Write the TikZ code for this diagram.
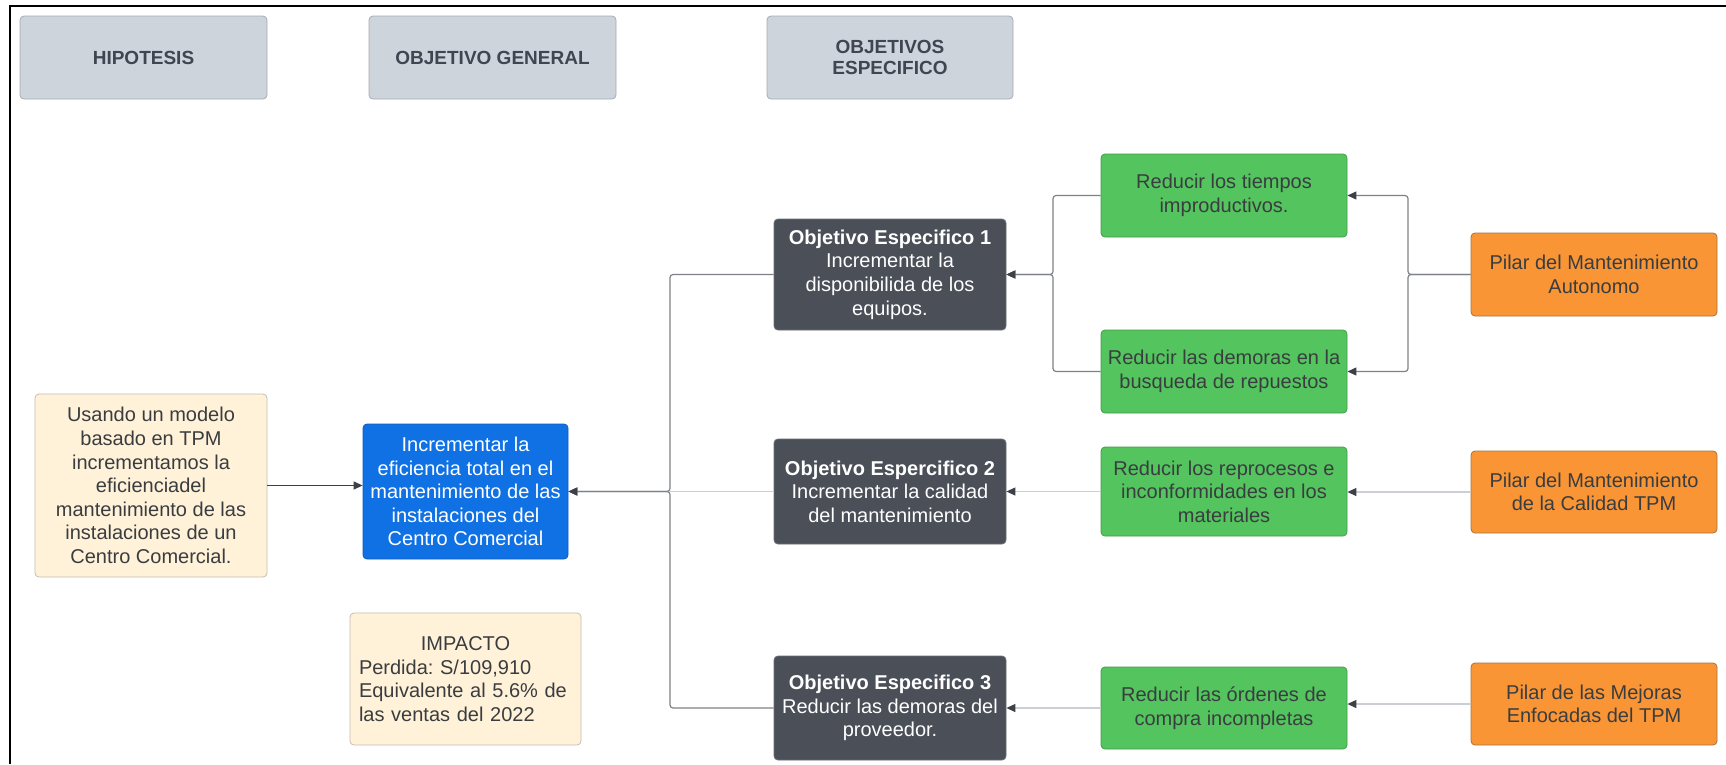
\documentclass[tikz,border=0pt]{standalone}
\usepackage{fontspec}
\setmainfont{Liberation Sans}
\usetikzlibrary{arrows.meta}
\frenchspacing
\definecolor{hdrfill}{HTML}{CED4DB}
\definecolor{hdrline}{HTML}{A6ACB3}
\definecolor{hdrtext}{HTML}{3F4652}
\definecolor{creamfill}{HTML}{FFF2D9}
\definecolor{creamline}{HTML}{C4BDB0}
\definecolor{bluefill}{HTML}{1071E5}
\definecolor{blueline}{HTML}{0D5CBF}
\definecolor{darkfill}{HTML}{4A4F58}
\definecolor{darkline}{HTML}{6A6F77}
\definecolor{greenfill}{HTML}{54C45E}
\definecolor{greenline}{HTML}{3F9F48}
\definecolor{orangefill}{HTML}{F99535}
\definecolor{orangeline}{HTML}{A9733E}
\definecolor{bodytext}{HTML}{3A3D40}
\definecolor{treeline}{HTML}{7E8288}
\definecolor{lightline}{HTML}{CBCED2}
\definecolor{tipcol}{HTML}{3C4047}
\tikzset{
  box/.style={rectangle, rounded corners=4pt, inner sep=0pt, line width=0.8pt,
    align=center, font=\fontsize{20}{23.6}\selectfont},
  hdrbox/.style={box, fill=hdrfill, draw=hdrline, text=hdrtext,
    minimum width=247pt, minimum height=83pt,
    font=\fontsize{19}{21}\selectfont\bfseries},
  creambox/.style={box, fill=creamfill, draw=creamline, text=bodytext},
  bluebox/.style={box, fill=bluefill, draw=blueline, text=white},
  darkbox/.style={box, fill=darkfill, draw=darkline, text=white, minimum width=232pt},
  greenbox/.style={box, fill=greenfill, draw=greenline, text=bodytext, minimum width=246pt},
  orangebox/.style={box, fill=orangefill, draw=orangeline, text=bodytext, minimum width=246pt},
  tiparrow/.style={-{Triangle[length=9pt,width=8pt,color=tipcol]}},
  treeconn/.style={draw=treeline, line width=1.2pt, rounded corners=3pt, tiparrow},
  darkconn/.style={draw=tipcol, line width=1.2pt, tiparrow},
  lightconn/.style={draw=lightline, line width=1.2pt, tiparrow},
}
\begin{document}
\begin{tikzpicture}[x=1pt,y=-1pt]
\useasboundingbox (0,0) rectangle (1726,764);
\fill[white] (0,0) rectangle (1726,764);
\draw[line width=2.5pt, black] (10,764) -- (10,6) -- (1726,6);

% headers
\node[hdrbox] (hh) at (143.5,57.5) {HIPOTESIS};
\node[hdrbox] (hg) at (492.5,57.5) {OBJETIVO GENERAL};
\node[hdrbox, minimum width=246pt] (he) at (890,57.5) {OBJETIVOS\\ESPECIFICO};

% left column
\node[creambox, minimum width=232pt, minimum height=183pt] (hyp) at (151,485.5)
  {Usando un modelo\\basado en TPM\\incrementamos la\\eficienciadel\\mantenimiento de las\\instalaciones de un\\Centro Comercial.};
\node[bluebox, minimum width=205pt, minimum height=135pt] (gen) at (465.5,491.5)
  {Incrementar la\\eficiencia total en el\\mantenimiento de las\\instalaciones del\\Centro Comercial};
\node[creambox, minimum width=231pt, minimum height=132pt, text width=213pt, align=left] (imp) at (465.5,679)
  {\makebox[213pt]{IMPACTO}\\Perdida: S/109,910\\Equivalente al 5.6\% de\\las ventas del 2022};

% specific objectives
\node[darkbox, minimum height=111pt] (oa) at (890,274.5)
  {\textbf{Objetivo Especifico 1}\\Incrementar la\\disponibilida de los\\equipos.};
\node[darkbox, minimum height=105pt] (ob) at (890,491.5)
  {\textbf{Objetivo Espercifico 2}\\Incrementar la calidad\\del mantenimiento};
\node[darkbox, minimum height=104pt] (oc) at (890,708)
  {\textbf{Objetivo Especifico 3}\\Reducir las demoras del\\proveedor.};

% green
\node[greenbox, minimum height=83pt] (ga) at (1224,195.5) {Reducir los tiempos\\improductivos.};
\node[greenbox, minimum height=83pt] (gb) at (1224,371.5) {Reducir las demoras en la\\busqueda de repuestos};
\node[greenbox, minimum height=89pt] (gc) at (1224,491.5) {Reducir los reprocesos e\\inconformidades en los\\materiales};
\node[greenbox, minimum height=82pt] (gd) at (1224,708) {Reducir las órdenes de\\compra incompletas};

% orange
\node[orangebox, minimum height=83pt] (pa) at (1594,274.5) {Pilar del Mantenimiento\\Autonomo};
\node[orangebox, minimum height=82pt] (pb) at (1594,492) {Pilar del Mantenimiento\\de la Calidad TPM};
\node[orangebox, minimum height=82pt] (pc) at (1594,704) {Pilar de las Mejoras\\Enfocadas del TPM};

% trunk coordinates
\coordinate (tk1) at (670,491.5);
\coordinate (tk2) at (1053,274.5);
\coordinate (tk3) at (1408,274.5);

% connectors
\draw[darkconn] (hyp.east) -- (hyp.east -| gen.west);
\draw[draw=lightline, line width=1.2pt] (ob.west) -- (tk1);
\draw[treeconn] (oa.west) -- (oa.west -| tk1) |- (gen.east);
\draw[treeconn] (oc.west) -- (oc.west -| tk1) |- (gen.east);

\draw[treeconn] (ga.west) -- (ga.west -| tk2) |- (oa.east);
\draw[treeconn] (gb.west) -- (gb.west -| tk2) |- (oa.east);
\draw[treeconn] (pa.west) -- (tk3) |- (ga.east);
\draw[treeconn] (pa.west) -- (tk3) |- (gb.east);

\draw[lightconn] (gc.west) -- (gc.west -| ob.east);
\draw[lightconn] (pb.west) -- (pb.west -| gc.east);
\draw[lightconn] (gd.west) -- (gd.west -| oc.east);
\draw[lightconn] (pc.west) -- (pc.west -| gd.east);
\end{tikzpicture}
\end{document}
